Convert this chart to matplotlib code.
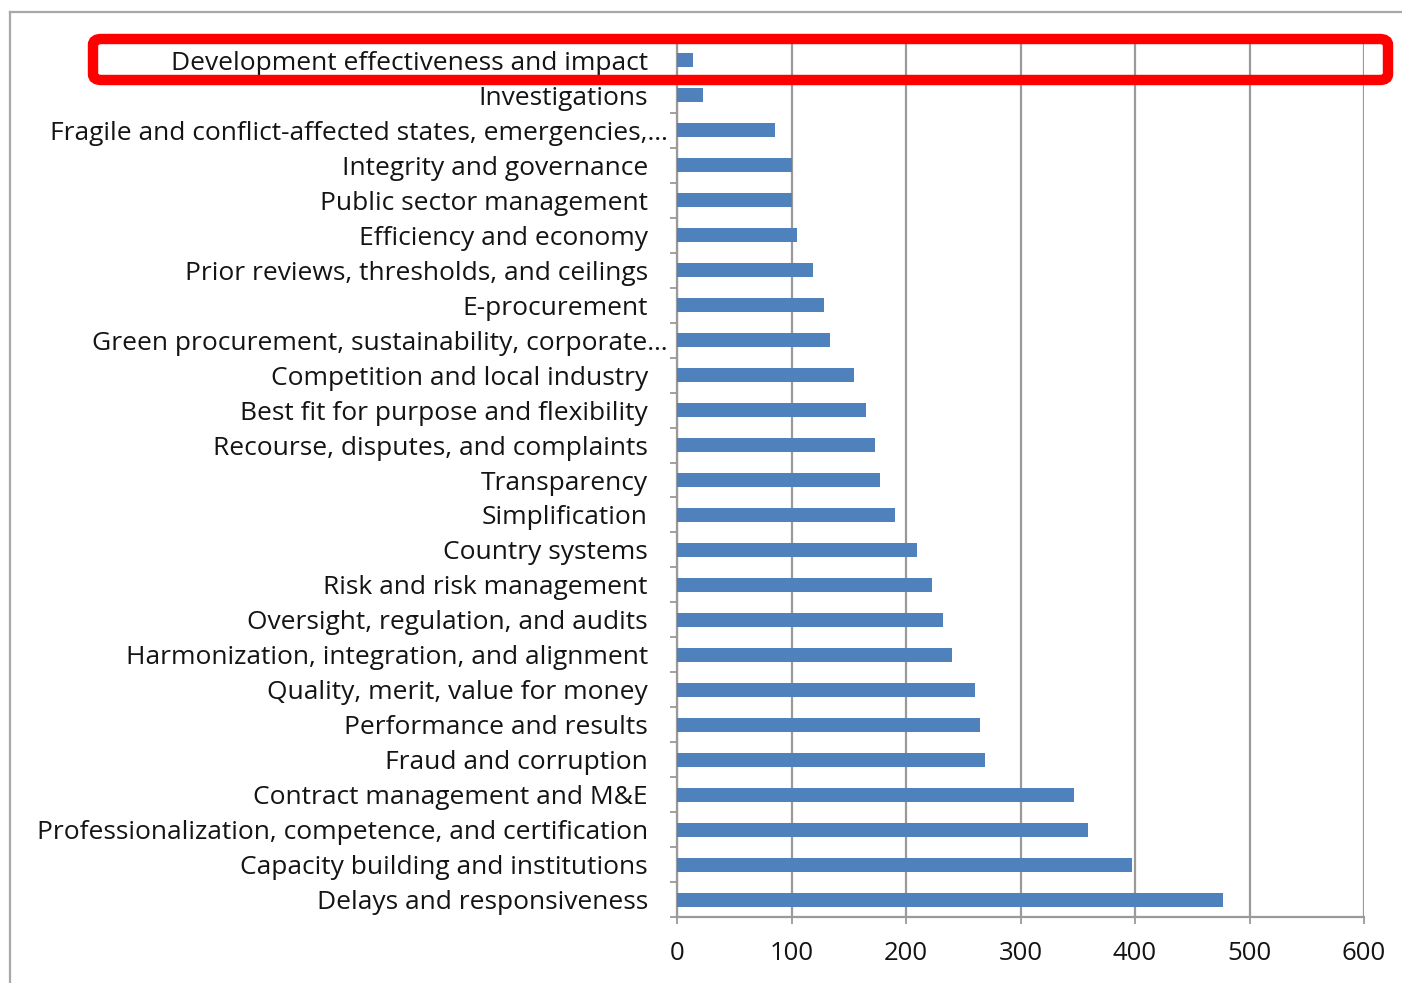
import matplotlib
matplotlib.use('Agg')
import matplotlib.pyplot as plt
from matplotlib.patches import FancyBboxPatch
from matplotlib.lines import Line2D
from matplotlib.transforms import ScaledTranslation

# categories listed top to bottom as in the chart
topics = [
    'Development effectiveness and impact',
    'Investigations',
    'Fragile and conflict-affected states, emergencies,…',
    'Integrity and governance',
    'Public sector management',
    'Efficiency and economy',
    'Prior reviews, thresholds, and ceilings',
    'E-procurement',
    'Green procurement, sustainability, corporate…',
    'Competition and local industry',
    'Best fit for purpose and flexibility',
    'Recourse, disputes, and complaints',
    'Transparency',
    'Simplification',
    'Country systems',
    'Risk and risk management',
    'Oversight, regulation, and audits',
    'Harmonization, integration, and alignment',
    'Quality, merit, value for money',
    'Performance and results',
    'Fraud and corruption',
    'Contract management and M&E',
    'Professionalization, competence, and certification',
    'Capacity building and institutions',
    'Delays and responsiveness',
]
counts = [14, 23, 86, 100, 100, 105, 119, 128, 134, 155, 165, 173, 177, 190,
          210, 223, 232, 240, 260, 265, 269, 347, 359, 397, 477]
x_ticks = [0, 100, 200, 300, 400, 500, 600]

plt.rcParams['font.family'] = ['Open Sans', 'DejaVu Sans']

fig = plt.figure(figsize=(14.02, 9.83), dpi=100)
ax = fig.add_axes([677 / 1402, 66 / 983, 687 / 1402, 874 / 983])

ypos = list(range(len(topics)))
ax.barh(ypos, counts, height=0.4, color='#4F81BD', zorder=3)
ax.set_ylim(len(topics) - 0.5, -0.5)
ax.set_xlim(0, 600)
ax.set_xticks(x_ticks)
ax.set_xticklabels([str(t) for t in x_ticks], fontsize=18.5, color='#141414')
ax.set_yticks(ypos)
ax.set_yticklabels(topics, fontsize=19, color='#141414')
ax.set_yticks([y + 0.5 for y in range(-1, len(topics))], minor=True)

ax.grid(axis='x', color='#9a9a9a', linewidth=1.6, zorder=0)
for side in ['top', 'right']:
    ax.spines[side].set_visible(False)
for side in ['left', 'bottom']:
    ax.spines[side].set_color('#9a9a9a')
    ax.spines[side].set_linewidth(1.6)

ax.tick_params(axis='y', which='major', length=0, pad=21)
ax.tick_params(axis='y', which='minor', length=5, width=1.3, color='#9a9a9a')
ax.tick_params(axis='x', length=5, width=1.3, color='#9a9a9a', pad=12)

# truncated labels hang past the others
for lbl in ax.get_yticklabels():
    if lbl.get_text().endswith('…'):
        lbl.set_transform(lbl.get_transform() + ScaledTranslation(0.2, 0, fig.dpi_scale_trans))

# outer frame of the chart area
W, H = 1402, 983
fig.add_artist(Line2D([10 / W, 1.0], [1 - 12 / H, 1 - 12 / H], color='#a8a8a8', lw=1.6))
fig.add_artist(Line2D([10 / W, 10 / W], [0, 1 - 12 / H], color='#a8a8a8', lw=1.6))

# red highlight box
box = FancyBboxPatch((93 / W, 1 - 80 / H), (1388 - 93) / W, (80 - 39) / H,
                     boxstyle='round,pad=0,rounding_size=0.006',
                     transform=fig.transFigure, fill=False,
                     edgecolor='#ff0000', linewidth=7.5)
fig.add_artist(box)

fig.savefig('out.png', dpi=100)
